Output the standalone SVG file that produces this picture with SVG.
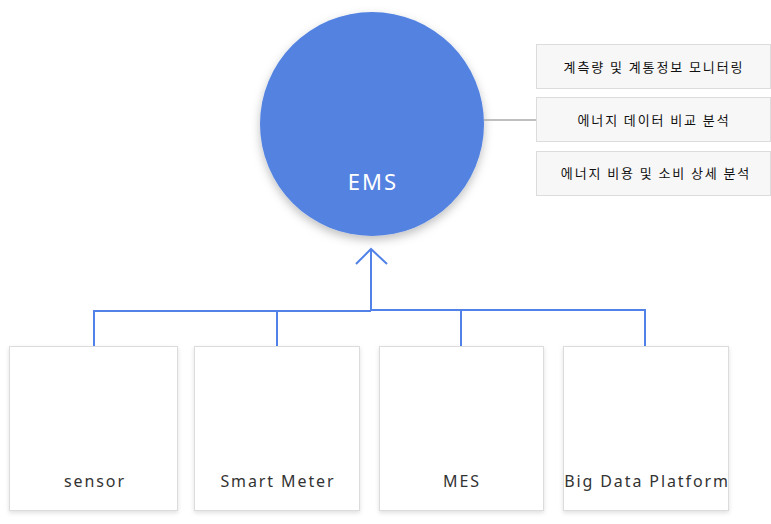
<svg xmlns="http://www.w3.org/2000/svg" width="771" height="524" viewBox="0 0 771 524">
<defs>
<filter id="sh" x="-20%" y="-20%" width="140%" height="150%">
<feDropShadow dx="0" dy="4" stdDeviation="5" flood-color="#000" flood-opacity="0.25"/>
</filter>
<filter id="bsh" x="-10%" y="-10%" width="120%" height="120%">
<feDropShadow dx="0" dy="2" stdDeviation="2" flood-color="#000" flood-opacity="0.12"/>
</filter>
</defs>
<style>
.feat rect{fill:#f7f7f7;stroke:#dcdcdc;stroke-width:1}
.feat text{font-family:"Noto Sans CJK KR","Noto Sans",sans-serif;font-size:13px;fill:#111;text-anchor:middle;letter-spacing:1.9px}
.src rect{fill:#fff;stroke:#dcdcdc;stroke-width:1;filter:url(#bsh)}
.src text{font-family:"Noto Sans","DejaVu Sans",sans-serif;font-size:16px;fill:#333;text-anchor:middle;letter-spacing:1.9px}
.blue{stroke:#5282e8;stroke-width:2;fill:none}
</style>
<rect width="771" height="524" fill="#fff"/>
<g id="ems">
<circle cx="372" cy="124" r="112" fill="#5282e1" filter="url(#sh)"/>
<text x="373" y="190" font-family="Noto Sans, DejaVu Sans, sans-serif" font-size="22" fill="#fff" text-anchor="middle" letter-spacing="2">EMS</text>
</g>
<g id="feat1" class="feat"><rect x="536.5" y="44.5" width="234" height="44"/><text x="654" y="72">계측량 및 계통정보 모니터링</text></g>
<g id="feat2" class="feat"><rect x="536.5" y="97.5" width="234" height="44"/><text x="654" y="125">에너지 데이터 비교 분석</text></g>
<g id="feat3" class="feat"><rect x="536.5" y="151.5" width="234" height="44"/><text x="656" y="178">에너지 비용 및 소비 상세 분석</text></g>
<g id="sensor" class="src"><rect x="9.5" y="346.5" width="168" height="164"/><text x="95" y="487">sensor</text></g>
<g id="smartmeter" class="src"><rect x="194.5" y="346.5" width="165" height="164"/><text x="278" y="487">Smart Meter</text></g>
<g id="mes" class="src"><rect x="379.5" y="346.5" width="164" height="164"/><text x="462" y="487">MES</text></g>
<g id="bigdata" class="src"><rect x="563.5" y="346.5" width="165" height="164"/><text x="647" y="487">Big Data Platform</text></g>
<g id="connectors">
<line x1="484" y1="120" x2="536" y2="120" stroke="#aaa" stroke-width="1.5"/>
<path class="blue" d="M371 310V249M356 264L371 249L387 264"/>
<path class="blue" d="M94 346V311H371M645 346V310H371M277 346V311M461 346V310"/>
</g>
</svg>
